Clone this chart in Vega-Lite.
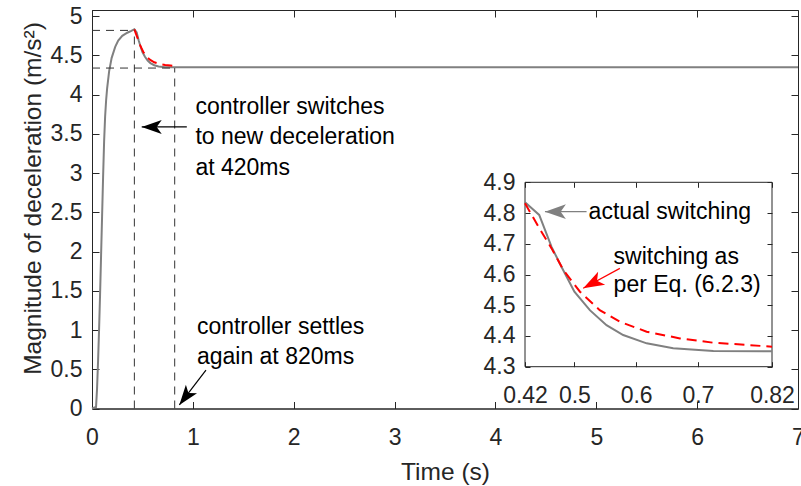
{
  "$schema": "https://vega.github.io/schema/vega-lite/v6.json",
  "width": 706,
  "height": 398.5,
  "autosize": {"type": "none"},
  "padding": {"left": 92, "top": 10, "right": 3, "bottom": 77.5},
  "background": "white",
  "config": {
    "view": {"stroke": "#262626", "strokeWidth": 1},
    "font": "Liberation Sans",
    "axis": {
      "labelFont": "Liberation Sans", "titleFont": "Liberation Sans",
      "labelFontSize": 23, "titleFontSize": 24.5,
      "labelColor": "#262626", "titleColor": "#262626",
      "domainColor": "#262626", "tickColor": "#262626",
      "grid": false, "titleFontWeight": "normal",
      "labelFlush": false, "labelOverlap": false
    }
  },
  "datasets": {
    "gray": [
      {"t": 0, "v": 0}, {"t": 0.04, "v": 0.02}, {"t": 0.05, "v": 0.25}, {"t": 0.06, "v": 0.6},
      {"t": 0.07, "v": 1.0}, {"t": 0.08, "v": 1.45}, {"t": 0.09, "v": 1.95}, {"t": 0.1, "v": 2.45},
      {"t": 0.11, "v": 2.95}, {"t": 0.12, "v": 3.4}, {"t": 0.13, "v": 3.72}, {"t": 0.14, "v": 3.93},
      {"t": 0.15, "v": 4.08}, {"t": 0.17, "v": 4.3}, {"t": 0.195, "v": 4.47}, {"t": 0.23, "v": 4.61},
      {"t": 0.26, "v": 4.69}, {"t": 0.3, "v": 4.75}, {"t": 0.35, "v": 4.79}, {"t": 0.39, "v": 4.815},
      {"t": 0.42, "v": 4.835}, {"t": 0.443, "v": 4.794}, {"t": 0.463, "v": 4.69}, {"t": 0.479, "v": 4.625},
      {"t": 0.5, "v": 4.544}, {"t": 0.525, "v": 4.484}, {"t": 0.552, "v": 4.435}, {"t": 0.579, "v": 4.403},
      {"t": 0.617, "v": 4.376}, {"t": 0.66, "v": 4.36}, {"t": 0.725, "v": 4.351}, {"t": 0.82, "v": 4.35},
      {"t": 7, "v": 4.35}
    ],
    "red": [
      {"t": 0.42, "v": 4.832}, {"t": 0.4416, "v": 4.756}, {"t": 0.463, "v": 4.685}, {"t": 0.482, "v": 4.615},
      {"t": 0.509, "v": 4.544}, {"t": 0.541, "v": 4.484}, {"t": 0.574, "v": 4.446}, {"t": 0.617, "v": 4.414},
      {"t": 0.671, "v": 4.392}, {"t": 0.725, "v": 4.378}, {"t": 0.779, "v": 4.371}, {"t": 0.82, "v": 4.365}
    ],
    "guides": [
      {"t1": 0, "v1": 4.82, "t2": 0.42, "v2": 4.82},
      {"t1": 0.42, "v1": 0, "t2": 0.42, "v2": 4.82},
      {"t1": 0, "v1": 4.34, "t2": 0.82, "v2": 4.34},
      {"t1": 0.82, "v1": 0, "t2": 0.82, "v2": 4.34}
    ],
    "mainArrows": [
      {"id": "switch", "t1": 0.94, "v1": 3.59, "t2": 0.493, "v2": 3.59},
      {"id": "settle", "t1": 1.13, "v1": 0.49, "t2": 0.866, "v2": 0.045}
    ],
    "mainNotes": [
      {"t": 1.025, "v": 3.752, "label": "controller switches"},
      {"t": 1.025, "v": 3.366, "label": "to new deceleration"},
      {"t": 1.025, "v": 2.975, "label": "at 420ms"},
      {"t": 1.04, "v": 0.948, "label": "controller settles"},
      {"t": 1.04, "v": 0.567, "label": "again at 820ms"}
    ],
    "insetArrows": [
      {"id": "actual", "t1": 0.5197, "v1": 4.8045, "t2": 0.4523, "v2": 4.8045},
      {"id": "eq", "t1": 0.5736, "v1": 4.62, "t2": 0.5143, "v2": 4.555}
    ],
    "insetNotes": [
      {"t": 0.523, "v": 4.7807, "label": "actual switching"},
      {"t": 0.5635, "v": 4.634, "label": "switching as"},
      {"t": 0.5635, "v": 4.542, "label": "per Eq. (6.2.3)"}
    ],
    "insetBox": [{"t1": 0.42, "t2": 0.82, "v1": 4.3, "v2": 4.9}],
    "dummy": [{"t": 0, "v": 0}]
  },
  "layer": [
    {
      "layer": [
        {
          "data": {"name": "gray"},
          "mark": {"type": "line", "color": "#808080", "strokeWidth": 2},
          "encoding": {
            "x": {"field": "t", "type": "quantitative",
              "scale": {"domain": [0, 7], "nice": false, "zero": false},
              "axis": {"orient": "bottom", "values": [0, 1, 2, 3, 4, 5, 6, 7], "format": "~g",
                "labelOverlap": false,
                "tickSize": -7, "labelPadding": 25, "title": "Time (s)", "titleY": 52, "titleBaseline": "top"}},
            "y": {"field": "v", "type": "quantitative",
              "scale": {"domain": [0, 5.08], "nice": false, "zero": false},
              "axis": {"orient": "left", "values": [0, 0.5, 1, 1.5, 2, 2.5, 3, 3.5, 4, 4.5, 5], "format": "~g",
                "labelOverlap": false, "tickCount": 11,
                "tickSize": -7, "labelPadding": 17, "title": "Magnitude of deceleration (m/s²)",
                "titleX": -47, "titleY": 188, "titleBaseline": "bottom"}}
          }
        },
        {
          "data": {"name": "red"},
          "mark": {"type": "line", "color": "#ff0000", "strokeWidth": 2, "strokeDash": [10, 6]},
          "encoding": {
            "x": {"field": "t", "type": "quantitative"},
            "y": {"field": "v", "type": "quantitative"}
          }
        },
        {
          "data": {"name": "guides"},
          "mark": {"type": "rule", "color": "#333333", "strokeWidth": 1, "strokeDash": [8, 6]},
          "encoding": {
            "x": {"field": "t1", "type": "quantitative"},
            "x2": {"field": "t2"},
            "y": {"field": "v1", "type": "quantitative"},
            "y2": {"field": "v2"}
          }
        },
        {
          "data": {"name": "mainArrows"},
          "mark": {"type": "rule", "color": "#000000", "strokeWidth": 1.2},
          "encoding": {
            "x": {"field": "t1", "type": "quantitative"},
            "x2": {"field": "t2"},
            "y": {"field": "v1", "type": "quantitative"},
            "y2": {"field": "v2"}
          }
        },
        {
          "data": {"name": "mainArrows"},
          "transform": [{"filter": "datum.id === 'switch'"}],
          "mark": {"type": "point", "shape": "M0,0 L0.7,2 L0,1.5 L-0.7,2 Z", "size": 400, "angle": 270,
            "filled": true, "color": "#000000", "opacity": 1, "strokeWidth": 0},
          "encoding": {
            "x": {"field": "t2", "type": "quantitative"},
            "y": {"field": "v2", "type": "quantitative"}
          }
        },
        {
          "data": {"name": "mainArrows"},
          "transform": [{"filter": "datum.id === 'settle'"}],
          "mark": {"type": "point", "shape": "M0,0 L0.7,2 L0,1.5 L-0.7,2 Z", "size": 400, "angle": 217.3,
            "filled": true, "color": "#000000", "opacity": 1, "strokeWidth": 0},
          "encoding": {
            "x": {"field": "t2", "type": "quantitative"},
            "y": {"field": "v2", "type": "quantitative"}
          }
        },
        {
          "data": {"name": "mainNotes"},
          "mark": {"type": "text", "align": "left", "baseline": "alphabetic", "fontSize": 23,
            "font": "Liberation Sans", "color": "#000000"},
          "encoding": {
            "x": {"field": "t", "type": "quantitative"},
            "y": {"field": "v", "type": "quantitative"},
            "text": {"field": "label"}
          }
        }
      ]
    },
    {
      "data": {"name": "dummy"},
      "mark": {"type": "point", "opacity": 0},
      "encoding": {
        "x": {"field": "t", "type": "quantitative",
          "scale": {"domain": [0, 7], "nice": false, "zero": false},
          "axis": {"orient": "top", "values": [0, 1, 2, 3, 4, 5, 6, 7], "labels": false, "domain": false,
            "tickSize": -7, "title": null}},
        "y": {"field": "v", "type": "quantitative",
          "scale": {"domain": [0, 5.08], "nice": false, "zero": false},
          "axis": {"orient": "right", "values": [0, 0.5, 1, 1.5, 2, 2.5, 3, 3.5, 4, 4.5, 5], "labels": false,
            "domain": false, "tickSize": -7, "title": null}}
      }
    },
    {
      "layer": [
        {
          "data": {"name": "insetBox"},
          "mark": {"type": "rect", "fill": "white", "stroke": "#262626", "strokeWidth": 1},
          "encoding": {
            "x": {"field": "t1", "type": "quantitative",
              "scale": {"domain": [0.42, 0.82], "range": [433, 680], "nice": false, "zero": false},
              "axis": {"orient": "bottom", "offset": -41.8, "values": [0.42, 0.5, 0.6, 0.7, 0.82], "format": "~g",
                "tickSize": -5, "labelPadding": 23, "domain": false, "title": null, "zindex": 1}},
            "x2": {"field": "t2"},
            "y": {"field": "v1", "type": "quantitative",
              "scale": {"domain": [4.3, 4.9], "range": [356.7, 172.3], "nice": false, "zero": false},
              "axis": {"orient": "left", "offset": -433, "values": [4.3, 4.4, 4.5, 4.6, 4.7, 4.8, 4.9], "format": "~g",
                "tickSize": -5, "labelPadding": 15, "domain": false, "title": null, "zindex": 1}},
            "y2": {"field": "v2"}
          }
        },
        {
          "data": {"name": "gray"},
          "transform": [{"filter": "datum.t >= 0.42 && datum.t <= 0.82"}],
          "mark": {"type": "line", "color": "#808080", "strokeWidth": 2},
          "encoding": {
            "x": {"field": "t", "type": "quantitative"},
            "y": {"field": "v", "type": "quantitative"}
          }
        },
        {
          "data": {"name": "red"},
          "mark": {"type": "line", "color": "#ff0000", "strokeWidth": 2, "strokeDash": [10, 6]},
          "encoding": {
            "x": {"field": "t", "type": "quantitative"},
            "y": {"field": "v", "type": "quantitative"}
          }
        },
        {
          "data": {"name": "insetArrows"},
          "transform": [{"filter": "datum.id === 'actual'"}],
          "mark": {"type": "rule", "color": "#808080", "strokeWidth": 1.2},
          "encoding": {
            "x": {"field": "t1", "type": "quantitative"},
            "x2": {"field": "t2"},
            "y": {"field": "v1", "type": "quantitative"},
            "y2": {"field": "v2"}
          }
        },
        {
          "data": {"name": "insetArrows"},
          "transform": [{"filter": "datum.id === 'eq'"}],
          "mark": {"type": "rule", "color": "#ff0000", "strokeWidth": 1.2},
          "encoding": {
            "x": {"field": "t1", "type": "quantitative"},
            "x2": {"field": "t2"},
            "y": {"field": "v1", "type": "quantitative"},
            "y2": {"field": "v2"}
          }
        },
        {
          "data": {"name": "insetArrows"},
          "transform": [{"filter": "datum.id === 'actual'"}],
          "mark": {"type": "point", "shape": "M0,0 L0.7,2 L0,1.5 L-0.7,2 Z", "size": 440, "angle": 270,
            "filled": true, "color": "#808080", "opacity": 1, "strokeWidth": 0},
          "encoding": {
            "x": {"field": "t2", "type": "quantitative"},
            "y": {"field": "v2", "type": "quantitative"}
          }
        },
        {
          "data": {"name": "insetArrows"},
          "transform": [{"filter": "datum.id === 'eq'"}],
          "mark": {"type": "point", "shape": "M0,0 L0.7,2 L0,1.5 L-0.7,2 Z", "size": 440, "angle": 241.4,
            "filled": true, "color": "#ff0000", "opacity": 1, "strokeWidth": 0},
          "encoding": {
            "x": {"field": "t2", "type": "quantitative"},
            "y": {"field": "v2", "type": "quantitative"}
          }
        },
        {
          "data": {"name": "insetNotes"},
          "mark": {"type": "text", "align": "left", "baseline": "alphabetic", "fontSize": 23,
            "font": "Liberation Sans", "color": "#000000"},
          "encoding": {
            "x": {"field": "t", "type": "quantitative"},
            "y": {"field": "v", "type": "quantitative"},
            "text": {"field": "label"}
          }
        }
      ]
    },
    {
      "data": {"name": "dummy"},
      "mark": {"type": "point", "opacity": 0},
      "encoding": {
        "x": {"field": "t", "type": "quantitative",
          "scale": {"domain": [0.42, 0.82], "range": [433, 680], "nice": false, "zero": false},
          "axis": {"orient": "top", "offset": -172.3, "values": [0.42, 0.5, 0.6, 0.7, 0.82], "labels": false,
            "domain": false, "tickSize": -5, "title": null, "zindex": 1}},
        "y": {"field": "v", "type": "quantitative",
          "scale": {"domain": [4.3, 4.9], "range": [356.7, 172.3], "nice": false, "zero": false},
          "axis": {"orient": "right", "offset": -26, "values": [4.3, 4.4, 4.5, 4.6, 4.7, 4.8, 4.9], "labels": false,
            "domain": false, "tickSize": -5, "title": null, "zindex": 1}}
      }
    }
  ],
  "resolve": {
    "scale": {"x": "independent", "y": "independent"},
    "axis": {"x": "independent", "y": "independent"}
  }
}
